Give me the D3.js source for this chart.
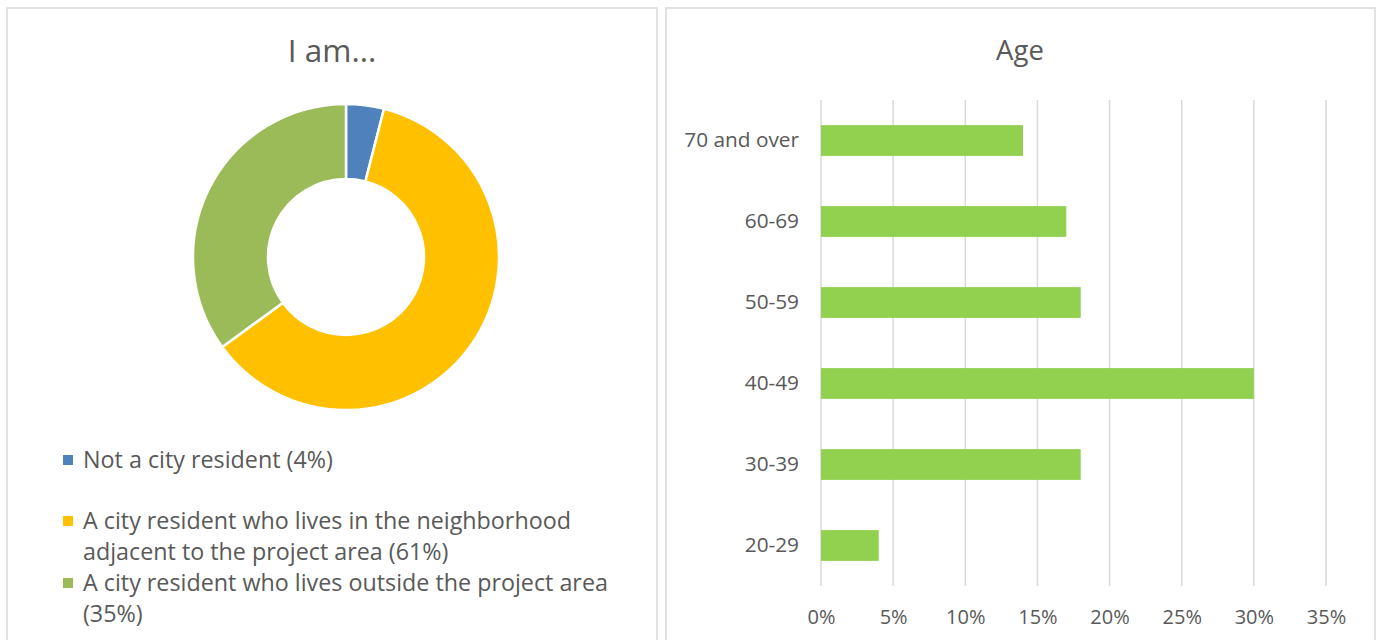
<!DOCTYPE html>
<html>
<head>
<meta charset="utf-8">
<script src="https://cdn.jsdelivr.net/npm/d3@7"></script>
<style>
  html, body { margin: 0; padding: 0; background: #fff; }
  svg { display: block; }
  text { font-family: "Open Sans", Lato, sans-serif; fill: #595959; }
</style>
</head>
<body>
<svg id="chart" width="1377" height="640"></svg>
<script>
// Donut data
const donutCategories = [
  "Not a city resident (4%)",
  "A city resident who lives in the neighborhood adjacent to the project area (61%)",
  "A city resident who lives outside the project area (35%)"
];
const donutValues = [4, 61, 35];
const donutColors = ["#4F81BD", "#FFC000", "#9BBB59"];
const legendLines = [
  ["Not a city resident (4%)"],
  ["A city resident who lives in the neighborhood", "adjacent to the project area (61%)"],
  ["A city resident who lives outside the project area", "(35%)"]
];

// Bar data
const ageCategories = ["70 and over", "60-69", "50-59", "40-49", "30-39", "20-29"];
const ageValues = [0.14, 0.17, 0.18, 0.30, 0.18, 0.04];
const xTicks = [0, 0.05, 0.10, 0.15, 0.20, 0.25, 0.30, 0.35];

const svg = d3.select("#chart");

// Panels
svg.append("rect").attr("x", 7).attr("y", 8).attr("width", 650).attr("height", 640)
  .attr("fill", "#fff").attr("stroke", "#D9D9D9").attr("stroke-width", 1.5);
svg.append("rect").attr("x", 666).attr("y", 8).attr("width", 709).attr("height", 640)
  .attr("fill", "#fff").attr("stroke", "#D9D9D9").attr("stroke-width", 1.5);

// ---- Donut ----
svg.append("text").attr("x", 332).attr("y", 62).attr("text-anchor", "middle")
  .attr("font-size", 31.5).text("I am...");

const pie = d3.pie().sort(null).value(d => d);
const arc = d3.arc().innerRadius(78).outerRadius(153);
const g1 = svg.append("g").attr("transform", "translate(346,257)");
g1.selectAll("path").data(pie(donutValues)).join("path")
  .attr("d", arc)
  .attr("fill", (d, i) => donutColors[i])
  .attr("stroke", "#fff").attr("stroke-width", 2.5);

// Legend
const legendY = [460, 521, 583];
const lg = svg.append("g");
legendLines.forEach((lines, i) => {
  lg.append("rect").attr("x", 63).attr("y", legendY[i] - 5).attr("width", 10).attr("height", 10)
    .attr("fill", donutColors[i]);
  lines.forEach((ln, j) => {
    lg.append("text").attr("x", 83).attr("y", legendY[i] + j * 31)
      .attr("dy", "0.35em").attr("font-size", 23.3).text(ln);
  });
});

// ---- Bar chart ----
svg.append("text").attr("x", 1020).attr("y", 60).attr("text-anchor", "middle")
  .attr("font-size", 27.5).text("Age");

const x = d3.scaleLinear().domain([0, 0.35]).range([821, 1326]);
const y = d3.scaleBand().domain(ageCategories).range([100, 586]).paddingInner(0.62).paddingOuter(0.31);

const grid = svg.append("g");
grid.selectAll("line").data(xTicks).join("line")
  .attr("x1", d => x(d)).attr("x2", d => x(d))
  .attr("y1", 100).attr("y2", 586)
  .attr("stroke", "#D9D9D9").attr("stroke-width", 1.5);

svg.append("g").selectAll("rect").data(ageValues).join("rect")
  .attr("x", x(0))
  .attr("y", (d, i) => y(ageCategories[i]))
  .attr("width", d => x(d) - x(0))
  .attr("height", y.bandwidth())
  .attr("fill", "#92D050");

const xAxis = d3.axisBottom(x).tickValues(xTicks).tickFormat(d3.format(".0%")).tickSize(0).tickPadding(0);
const xa = svg.append("g").attr("transform", "translate(0,617)").call(xAxis);
xa.select(".domain").remove();
xa.selectAll("text").attr("font-size", 20).attr("dy", "0.35em").attr("fill", "#595959")
  .style("font-family", "'Open Sans', Lato, sans-serif");

const yAxis = d3.axisLeft(y).tickSize(0).tickPadding(0);
const ya = svg.append("g").attr("transform", "translate(799,0)").call(yAxis);
ya.select(".domain").remove();
ya.selectAll("text").attr("font-size", 20.8).attr("fill", "#595959")
  .style("font-family", "'Open Sans', Lato, sans-serif");
</script>
</body>
</html>
